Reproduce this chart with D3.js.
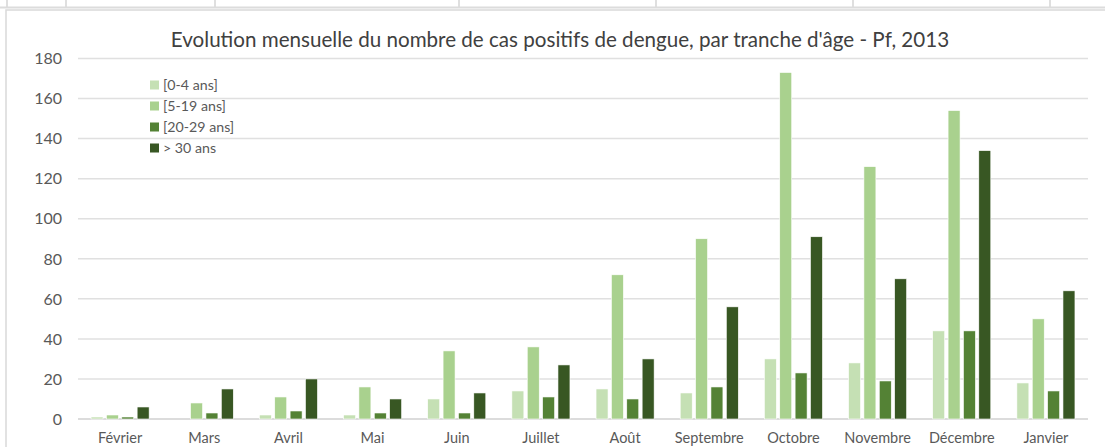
<!DOCTYPE html>
<html>
<head>
<meta charset="utf-8">
<script src="https://cdn.jsdelivr.net/npm/d3@7"></script>
<style>
  body { margin: 0; background: #fff; }
  svg { display: block; font-family: Lato, "Open Sans", sans-serif; }
</style>
</head>
<body>
<svg id="chart" width="1105" height="447"></svg>
<script>
// Chart data
const months = ["Février", "Mars", "Avril", "Mai", "Juin", "Juillet", "Août",
                "Septembre", "Octobre", "Novembre", "Décembre", "Janvier"];
const series = ["[0-4 ans]", "[5-19 ans]", "[20-29 ans]", "> 30 ans"];
const age0_4   = [1, 0, 2, 2, 10, 14, 15, 13, 30, 28, 44, 18];
const age5_19  = [2, 8, 11, 16, 34, 36, 72, 90, 173, 126, 154, 50];
const age20_29 = [1, 3, 4, 3, 3, 11, 10, 16, 23, 19, 44, 14];
const age30    = [6, 15, 20, 10, 13, 27, 30, 56, 91, 70, 134, 64];
const yTicks = [0, 20, 40, 60, 80, 100, 120, 140, 160, 180];
const colors = ["#c5e0b4", "#a9d18e", "#548235", "#385723"];
const title = "Evolution mensuelle du nombre de cas positifs de dengue, par tranche d'âge - Pf, 2013";

const values = [age0_4, age5_19, age20_29, age30];
const svg = d3.select("#chart");

// spreadsheet cells peeking above the chart
const cellLines = [7, 66, 215, 459, 656, 853, 1050];
svg.selectAll(".cell").data(cellLines).join("line")
    .attr("x1", d => d).attr("x2", d => d).attr("y1", 0).attr("y2", 7)
    .attr("stroke", "#d4d4d4").attr("stroke-width", 1.5);
svg.append("rect").attr("x", 0).attr("y", 6.5).attr("width", 1105).attr("height", 2)
    .attr("fill", "#dcdcdc");

// chart frame
svg.append("rect").attr("x", 6).attr("y", 10).attr("width", 1105).attr("height", 450)
    .attr("fill", "#fff").attr("stroke", "#d9d9d9").attr("stroke-width", 1.5);

const margin = {top: 58.5, left: 78, right: 1105 - 1088, bottom: 447 - 419};
const width = 1105 - margin.left - margin.right;
const height = 447 - margin.top - margin.bottom;

const g = svg.append("g").attr("transform", `translate(${margin.left},${margin.top})`);

const x0 = d3.scaleBand().domain(months).range([0, width]).paddingInner(0.31).paddingOuter(0.155);
const x1 = d3.scaleBand().domain(series).range([0, x0.bandwidth()]).paddingInner(0.22);
const y = d3.scaleLinear().domain([0, 180]).range([height, 0]);

// gridlines
g.selectAll(".grid").data(yTicks).join("line")
    .attr("x1", 0).attr("x2", width)
    .attr("y1", d => y(d)).attr("y2", d => y(d))
    .attr("stroke", d => d === 0 ? "#d0d0d0" : "#e0e0e0")
    .attr("stroke-width", 1.5);

// y labels
g.selectAll(".ylab").data(yTicks).join("text")
    .attr("x", -16).attr("y", d => y(d)).attr("dy", "0.36em")
    .attr("text-anchor", "end").attr("font-size", 16).attr("fill", "#595959")
    .text(d => d);

// x labels
g.selectAll(".xlab").data(months).join("text")
    .attr("x", d => x0(d) + x0.bandwidth() / 2).attr("y", height + 24)
    .attr("text-anchor", "middle").attr("font-size", 14.5).attr("fill", "#595959")
    .text(d => d);

// bars
const groups = g.selectAll(".month").data(months).join("g")
    .attr("transform", d => `translate(${x0(d)},0)`);
groups.selectAll("rect")
    .data((m, i) => series.map((s, k) => ({s, k, v: values[k][i]})))
    .join("rect")
    .attr("x", d => x1(d.s))
    .attr("width", x1.bandwidth())
    .attr("y", d => y(d.v))
    .attr("height", d => y(0) - y(d.v))
    .attr("fill", d => colors[d.k])
    .attr("stroke", "#fff").attr("stroke-width", 0.6);

// title
svg.append("text").attr("x", 560).attr("y", 47)
    .attr("text-anchor", "middle").attr("font-size", 20.6).attr("fill", "#404040")
    .text(title);

// legend
const legend = svg.append("g").attr("transform", "translate(150,85)");
const items = legend.selectAll("g").data(series).join("g")
    .attr("transform", (d, i) => `translate(0,${i * 21})`);
items.append("rect").attr("x", 0).attr("y", -4.5).attr("width", 9).attr("height", 9)
    .attr("fill", (d, i) => colors[i]);
items.append("text").attr("x", 13).attr("dy", "0.36em")
    .attr("font-size", 14.2).attr("fill", "#595959").text(d => d);
</script>
</body>
</html>
